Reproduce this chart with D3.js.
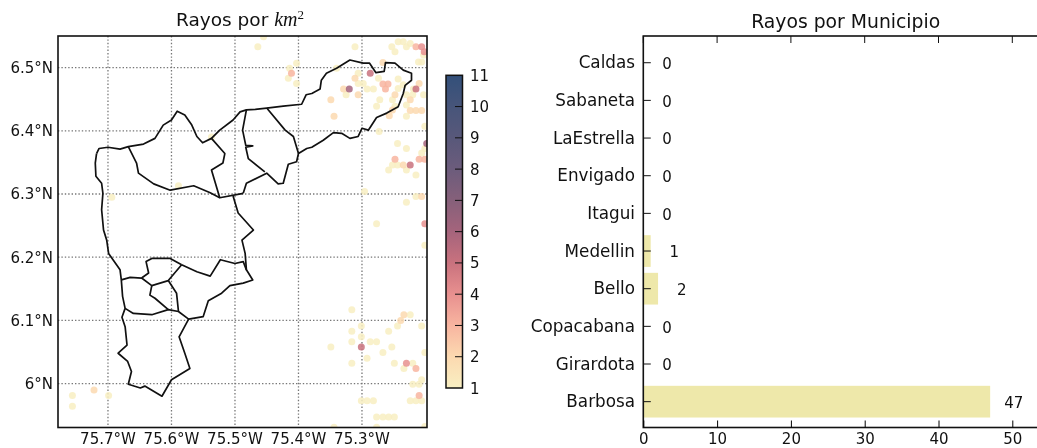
<!DOCTYPE html>
<html>
<head>
<meta charset="utf-8">
<script src="https://cdn.jsdelivr.net/npm/d3@7"></script>
<style>
body { margin: 0; background: #fff; }
svg { display: block; filter: blur(0.35px); }
text { font-family: "DejaVu Sans", sans-serif; fill: #111; }
</style>
</head>
<body>
<div id="mainDiv"></div>
<script>
// municipios (orden de arriba hacia abajo en la figura)
const municipios = ["Caldas","Sabaneta","LaEstrella","Envigado","Itagui","Medellin","Bello","Copacabana","Girardota","Barbosa"];
const rayosMunicipio = [0,0,0,0,0,1,2,0,0,47];
const xTicksBar = [0,10,20,30,40,50];

const lonTicks = [-75.7,-75.6,-75.5,-75.4,-75.3];
const latTicks = [6.5,6.4,6.3,6.2,6.1,6.0];
const lonLabels = ["75.7°W","75.6°W","75.5°W","75.4°W","75.3°W"];
const latLabels = ["6.5°N","6.4°N","6.3°N","6.2°N","6.1°N","6°N"];
const colorTicks = [1,2,3,4,5,6,7,8,9,10,11];
const colorStops = ["#f8efc2","#fcd9b0","#f8b5a0","#e8908f","#c9727e","#a5647c","#86607a","#6c5c7c","#58587a","#47557a","#33507a"];

// rayos por km2, [lon, lat], agrupados por valor
const rayos1 = [[-75.464,6.533],[-75.455,6.549],[-75.311,6.533],[-75.253,6.533],[-75.248,6.525],[-75.243,6.541],[-75.235,6.541],[-75.230,6.533],[-75.224,6.538],[-75.206,6.509],[-75.211,6.509],[-75.203,6.520],[-75.414,6.499],[-75.403,6.507],[-75.416,6.483],[-75.403,6.475],[-75.340,6.499],[-75.306,6.491],[-75.298,6.475],[-75.306,6.475],[-75.292,6.466],[-75.282,6.466],[-75.325,6.457],[-75.274,6.483],[-75.243,6.482],[-75.235,6.473],[-75.243,6.467],[-75.219,6.466],[-75.230,6.457],[-75.272,6.449],[-75.277,6.439],[-75.252,6.449],[-75.248,6.439],[-75.230,6.441],[-75.220,6.457],[-75.203,6.457],[-75.230,6.423],[-75.201,6.407],[-75.273,6.399],[-75.244,6.380],[-75.230,6.372],[-75.201,6.372],[-75.206,6.365],[-75.252,6.346],[-75.244,6.346],[-75.258,6.338],[-75.230,6.338],[-75.215,6.330],[-75.296,6.304],[-75.230,6.287],[-75.215,6.296],[-75.277,6.253],
  [-75.201,6.219],[-75.316,6.117],[-75.224,6.109],[-75.244,6.091],[-75.206,6.091],[-75.301,6.091],[-75.316,6.083],[-75.258,6.083],[-75.301,6.074],[-75.316,6.066],[-75.287,6.066],[-75.277,6.066],[-75.349,6.058],[-75.253,6.058],[-75.267,6.049],[-75.201,6.049],[-75.292,6.040],[-75.316,6.032],[-75.249,6.032],[-75.220,6.032],[-75.234,6.024],[-75.206,6.006],[-75.220,5.999],[-75.210,5.999],[-75.301,5.973],[-75.292,5.973],[-75.282,5.973],[-75.224,5.973],[-75.215,5.973],[-75.206,5.973],[-75.277,5.947],[-75.267,5.947],[-75.258,5.947],[-75.249,5.947],[-75.344,5.931],[-75.277,5.931],[-75.201,5.932],
  [-75.756,5.981],[-75.756,5.964],[-75.699,5.981],[-75.694,6.295],[-75.589,6.313],[-75.537,6.390]];
const rayos2 = [[-75.267,6.508],[-75.311,6.483],[-75.329,6.466],[-75.306,6.457],[-75.349,6.449],[-75.344,6.423],[-75.248,6.457],[-75.224,6.449],[-75.257,6.424],[-75.252,6.433],[-75.224,6.432],[-75.215,6.432],[-75.206,6.432],[-75.210,6.475],[-75.206,6.296],[-75.235,6.346],[-75.234,6.109],[-75.239,6.100],[-75.722,5.990]];
const rayos3 = [[-75.411,6.491],[-75.259,6.474],[-75.267,6.474],[-75.263,6.466],[-75.248,6.355],[-75.210,6.355],[-75.201,6.355],[-75.215,6.533],[-75.215,6.024],[-75.210,5.981]];
const rayos4 = [[-75.206,6.533],[-75.202,6.525],[-75.201,6.253],[-75.230,6.032]];
const rayos5 = [[-75.287,6.491],[-75.215,6.466],[-75.224,6.346],[-75.301,6.058]];
const rayos6 = [[-75.320,6.466],[-75.198,6.380]];

// limites de municipios, [lon, lat]
const contornoNorte = [[-75.718,6.364],[-75.714,6.372],[-75.700,6.374],[-75.681,6.371],[-75.668,6.375],[-75.644,6.379],[-75.626,6.388],[-75.613,6.409],[-75.600,6.417],[-75.591,6.431],[-75.579,6.425],[-75.568,6.409],[-75.560,6.391],[-75.551,6.381],[-75.537,6.388],[-75.524,6.401],[-75.503,6.417],[-75.492,6.430],[-75.482,6.433],[-75.468,6.434],[-75.450,6.436],[-75.424,6.439],[-75.395,6.442],[-75.388,6.457],[-75.379,6.459],[-75.366,6.466],[-75.364,6.480],[-75.356,6.491],[-75.340,6.499],[-75.319,6.512],[-75.298,6.507],[-75.288,6.507],[-75.278,6.492],[-75.265,6.494],[-75.263,6.508],[-75.248,6.507],[-75.235,6.496],[-75.222,6.491],[-75.222,6.480],[-75.232,6.472],[-75.235,6.459],[-75.243,6.438],[-75.261,6.428],[-75.277,6.421],[-75.290,6.401],[-75.300,6.404],[-75.306,6.391],[-75.319,6.388],[-75.332,6.396],[-75.345,6.397],[-75.361,6.385],[-75.379,6.374],[-75.387,6.372],[-75.400,6.364],[-75.403,6.351],[-75.416,6.347],[-75.424,6.317],[-75.432,6.316],[-75.450,6.333],[-75.482,6.317],[-75.487,6.301]];
const contornoEste = [[-75.503,6.297],[-75.495,6.270],[-75.471,6.243],[-75.489,6.227],[-75.484,6.206],[-75.482,6.180],[-75.472,6.164],[-75.487,6.159],[-75.508,6.155],[-75.521,6.143],[-75.542,6.131],[-75.550,6.106],[-75.573,6.102],[-75.588,6.074],[-75.579,6.048],[-75.571,6.024],[-75.600,6.006],[-75.615,5.980],[-75.642,5.996],[-75.649,5.993],[-75.668,5.999],[-75.663,6.019],[-75.669,6.035],[-75.684,6.048],[-75.670,6.061],[-75.673,6.090],[-75.678,6.105],[-75.673,6.119],[-75.677,6.138],[-75.679,6.164],[-75.681,6.180],[-75.699,6.206],[-75.702,6.227],[-75.707,6.243],[-75.710,6.275],[-75.708,6.301],[-75.710,6.317],[-75.719,6.328],[-75.720,6.349],[-75.718,6.364]];
const limiteBello = [[-75.668,6.375],[-75.655,6.349],[-75.652,6.333],[-75.628,6.316],[-75.602,6.306],[-75.565,6.313],[-75.539,6.302],[-75.524,6.294],[-75.487,6.301]];
const limiteCopacabana = [[-75.524,6.294],[-75.537,6.338],[-75.519,6.349],[-75.516,6.364],[-75.537,6.388]];
const limiteGirardotaO = [[-75.482,6.433],[-75.488,6.401],[-75.483,6.377],[-75.472,6.376],[-75.483,6.374],[-75.479,6.356],[-75.453,6.335]];
const limiteGirardotaE = [[-75.450,6.436],[-75.421,6.401],[-75.408,6.391],[-75.400,6.364]];
const limiteMedellinN = [[-75.647,6.167],[-75.636,6.175],[-75.640,6.193],[-75.631,6.198],[-75.602,6.198],[-75.584,6.188]];
const limiteMedellinS = [[-75.679,6.164],[-75.665,6.168],[-75.647,6.167],[-75.631,6.155],[-75.605,6.163],[-75.584,6.188]];
const limiteItagui = [[-75.631,6.155],[-75.634,6.140],[-75.626,6.135],[-75.605,6.117]];
const limiteEnvigado = [[-75.605,6.163],[-75.592,6.143],[-75.589,6.114]];
const limiteSur = [[-75.673,6.119],[-75.660,6.111],[-75.631,6.109],[-75.605,6.117],[-75.589,6.114],[-75.573,6.102]];
const limiteEste = [[-75.584,6.188],[-75.560,6.177],[-75.539,6.170],[-75.523,6.196],[-75.500,6.190],[-75.487,6.193],[-75.482,6.180]];

const allLimites = [contornoNorte,contornoEste,limiteBello,limiteCopacabana,limiteGirardotaO,limiteGirardotaE,limiteMedellinN,limiteMedellinS,limiteItagui,limiteEnvigado,limiteSur,limiteEste];
const allRayos = [[rayos1,1],[rayos2,2],[rayos3,3],[rayos4,4],[rayos5,5],[rayos6,6]];

var svg = d3.select("#mainDiv").append("svg")
	.attr("width",1037)
	.attr("height",448);

// ---------- mapa ----------
const mapL = 58, mapR = 427, mapT = 36, mapB = 427.5;
var x = d3.scaleLinear().domain([-75.7787,-75.1976]).range([mapL,mapR]);
var y = d3.scaleLinear().domain([5.9305,6.55]).range([mapB,mapT]);
var color = d3.scaleLinear().domain(colorTicks).range(colorStops);

svg.append("clipPath").attr("id","mapClip").append("rect")
	.attr("x",mapL).attr("y",mapT).attr("width",mapR-mapL).attr("height",mapB-mapT);

var grid = svg.append("g").attr("stroke","#777").attr("stroke-width",1.3).attr("stroke-dasharray","1.4,2");
grid.selectAll(".vg").data(lonTicks).enter().append("line")
	.attr("x1",d => x(d)).attr("x2",d => x(d)).attr("y1",mapT).attr("y2",mapB);
grid.selectAll(".hg").data(latTicks).enter().append("line")
	.attr("y1",d => y(d)).attr("y2",d => y(d)).attr("x1",mapL).attr("x2",mapR);

var dots = svg.append("g").attr("clip-path","url(#mapClip)");
allRayos.forEach(function(r){
	dots.selectAll(null).data(r[0]).enter().append("circle")
		.attr("cx",d => x(d[0]))
		.attr("cy",d => y(d[1]))
		.attr("r",3.5)
		.attr("fill",color(r[1]))
		.attr("fill-opacity",0.85);
});

var line = d3.line().x(d => x(d[0])).y(d => y(d[1]));
svg.append("g").selectAll("path").data(allLimites).enter().append("path")
	.attr("d",line)
	.attr("fill","none")
	.attr("stroke","#111")
	.attr("stroke-width",1.7)
	.attr("stroke-linejoin","round");

svg.append("rect").attr("x",mapL).attr("y",mapT).attr("width",mapR-mapL).attr("height",mapB-mapT)
	.attr("fill","none").attr("stroke","#111").attr("stroke-width",1.6);

svg.selectAll(".lonLab").data(lonTicks).enter().append("text")
	.attr("x",d => x(d)).attr("y",444)
	.attr("text-anchor","middle").style("font-size","15px")
	.text((d,i) => lonLabels[i]);
svg.selectAll(".latLab").data(latTicks).enter().append("text")
	.attr("x",53).attr("y",d => y(d)+5.5)
	.attr("text-anchor","end").style("font-size","15px")
	.text((d,i) => latLabels[i]);

var mapTitle = svg.append("text").attr("x",240).attr("y",26).attr("text-anchor","middle").style("font-size","18.5px");
mapTitle.append("tspan").text("Rayos por ");
mapTitle.append("tspan").style("font-family","'Liberation Serif',serif").style("font-style","italic").style("font-size","20px").text("km");
mapTitle.append("tspan").attr("dy",-7).style("font-family","'Liberation Serif',serif").style("font-size","13px").text("2");

// ---------- barra de color ----------
const cbL = 446, cbR = 462.5, cbT = 75.3, cbB = 388;
var cy = d3.scaleLinear().domain([1,11]).range([cbB,cbT]);
var grad = svg.append("defs").append("linearGradient").attr("id","cbGrad")
	.attr("x1",0).attr("x2",0).attr("y1",1).attr("y2",0);
grad.selectAll("stop").data(colorTicks).enter().append("stop")
	.attr("offset",d => (d-1)/10)
	.attr("stop-color",d => color(d));
svg.append("rect").attr("x",cbL).attr("y",cbT).attr("width",cbR-cbL).attr("height",cbB-cbT)
	.attr("fill","url(#cbGrad)").attr("stroke","#111").attr("stroke-width",1.5);
svg.selectAll(".cbTick").data(colorTicks.slice(1,-1)).enter().append("line")
	.attr("x1",cbR-7.5).attr("x2",cbR).attr("y1",d => cy(d)).attr("y2",d => cy(d))
	.attr("stroke","#111").attr("stroke-width",1);
svg.selectAll(".cbLab").data(colorTicks).enter().append("text")
	.attr("x",470).attr("y",d => cy(d)+5.5)
	.style("font-size","15px")
	.text(d => d);

// ---------- barras ----------
const barL = 643.3, barT = 36, barB = 427.5;
var bx = d3.scaleLinear().domain([0,60]).range([barL,barL+60*7.38]);
var by = d3.scaleBand().domain(municipios).range([43.9,420.5]).paddingInner(0.158).paddingOuter(0.079);

svg.selectAll(".bar").data(municipios).enter().append("rect")
	.attr("x",barL)
	.attr("y",d => by(d))
	.attr("width",(d,i) => bx(rayosMunicipio[i])-barL)
	.attr("height",by.bandwidth())
	.attr("fill","#eee8aa");

svg.append("rect").attr("x",barL).attr("y",barT).attr("width",bx(60)-barL).attr("height",barB-barT)
	.attr("fill","none").attr("stroke","#111").attr("stroke-width",1.6);

var xAxisBar = svg.append("g").attr("transform","translate(0,"+barB+")")
	.call(d3.axisBottom(bx).tickValues(xTicksBar).tickSize(-7).tickPadding(6.2));
xAxisBar.select(".domain").remove();
xAxisBar.selectAll("text").style("font-size","15px");
svg.selectAll(".topTick").data(xTicksBar).enter().append("line")
	.attr("x1",d => bx(d)).attr("x2",d => bx(d)).attr("y1",barT).attr("y2",barT+7)
	.attr("stroke","#111");

svg.selectAll(".yTick").data(municipios).enter().append("line")
	.attr("x1",barL).attr("x2",barL+7.5)
	.attr("y1",d => by(d)+by.bandwidth()/2).attr("y2",d => by(d)+by.bandwidth()/2)
	.attr("stroke","#111");
svg.selectAll(".yLab").data(municipios).enter().append("text")
	.attr("x",635).attr("y",d => by(d)+by.bandwidth()/2+5.5)
	.attr("text-anchor","end").style("font-size","16.8px")
	.text(d => d);
svg.selectAll(".valLab").data(municipios).enter().append("text")
	.attr("x",(d,i) => bx(rayosMunicipio[i]+3.2))
	.attr("y",d => by(d)+by.bandwidth()/2+6.3)
	.attr("text-anchor","middle").style("font-size","15px")
	.text((d,i) => rayosMunicipio[i]);

svg.append("text").attr("x",845.7).attr("y",28.3).attr("text-anchor","middle").style("font-size","18.8px")
	.text("Rayos por Municipio");
</script>
</body>
</html>
